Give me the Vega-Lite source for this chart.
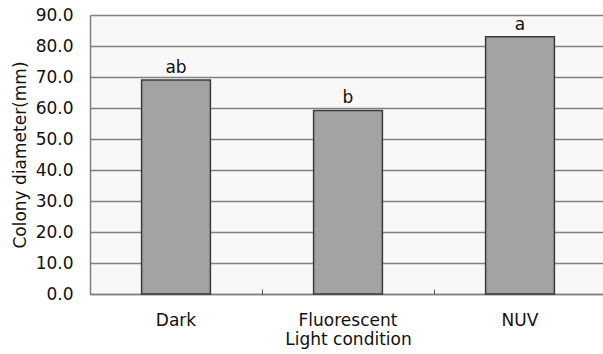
{
  "$schema": "https://vega.github.io/schema/vega-lite/v6.json",
  "width": 513,
  "height": 279,
  "autosize": "none",
  "padding": {"left": 90, "top": 15, "right": 0, "bottom": 60},
  "background": "white",
  "config": {
    "view": {"fill": "#f8f8f8", "stroke": null},
    "font": "DejaVu Sans",
    "axisY": {
      "values": [0, 10, 20, 30, 40, 50, 60, 70, 80, 90],
      "format": ".1f",
      "labelOverlap": false,
      "labelFlush": false,
      "titleFontSize": 17,
      "titleFontWeight": "normal",
      "titleColor": "#111",
      "titlePadding": 6,
      "labelFontSize": 17,
      "labelColor": "#111",
      "labelPadding": 17,
      "ticks": false,
      "grid": true,
      "gridColor": "#808080",
      "gridWidth": 1.5,
      "domainColor": "#808080",
      "domainWidth": 1.5
    }
  },
  "data": {
    "values": [
      {"condition": "Dark", "diameter": 69.0, "group": "ab"},
      {"condition": "Fluorescent", "diameter": 59.2, "group": "b"},
      {"condition": "NUV", "diameter": 83.0, "group": "a"}
    ]
  },
  "resolve": {"axis": {"x": "independent"}},
  "layer": [
    {
      "mark": {"type": "bar", "fill": "#a3a3a3", "stroke": "#3a3a3a", "strokeWidth": 1.5},
      "encoding": {
        "x": {
          "field": "condition",
          "type": "nominal",
          "sort": null,
          "scale": {"range": [0, 516], "paddingInner": 0.6, "paddingOuter": 0.3},
          "axis": {
            "orient": "bottom",
            "title": "Light condition",
            "titleFontSize": 17,
            "titleFontWeight": "normal",
            "titleColor": "#111",
            "titlePadding": 3,
            "labelFontSize": 17,
            "labelColor": "#111",
            "labelPadding": 18,
            "labelAngle": 0,
            "ticks": false,
            "domainColor": "#808080",
            "domainWidth": 1.5,
            "grid": false
          }
        },
        "y": {
          "field": "diameter",
          "type": "quantitative",
          "scale": {"domain": [0, 90], "nice": false},
          "axis": {"title": "Colony diameter(mm)"}
        }
      }
    },
    {
      "mark": {"type": "text", "fontSize": 17, "baseline": "alphabetic", "dy": -7, "color": "#111"},
      "encoding": {
        "x": {
          "field": "condition",
          "type": "nominal",
          "sort": null,
          "axis": {
            "orient": "bottom",
            "title": null,
            "labels": false,
            "domain": false,
            "grid": false,
            "ticks": true,
            "tickSize": -5,
            "tickOffset": -86,
            "tickColor": "#555",
            "tickWidth": 1
          }
        },
        "y": {"field": "diameter", "type": "quantitative", "axis": {"title": "Colony diameter(mm)"}},
        "text": {"field": "group"}
      }
    }
  ]
}
